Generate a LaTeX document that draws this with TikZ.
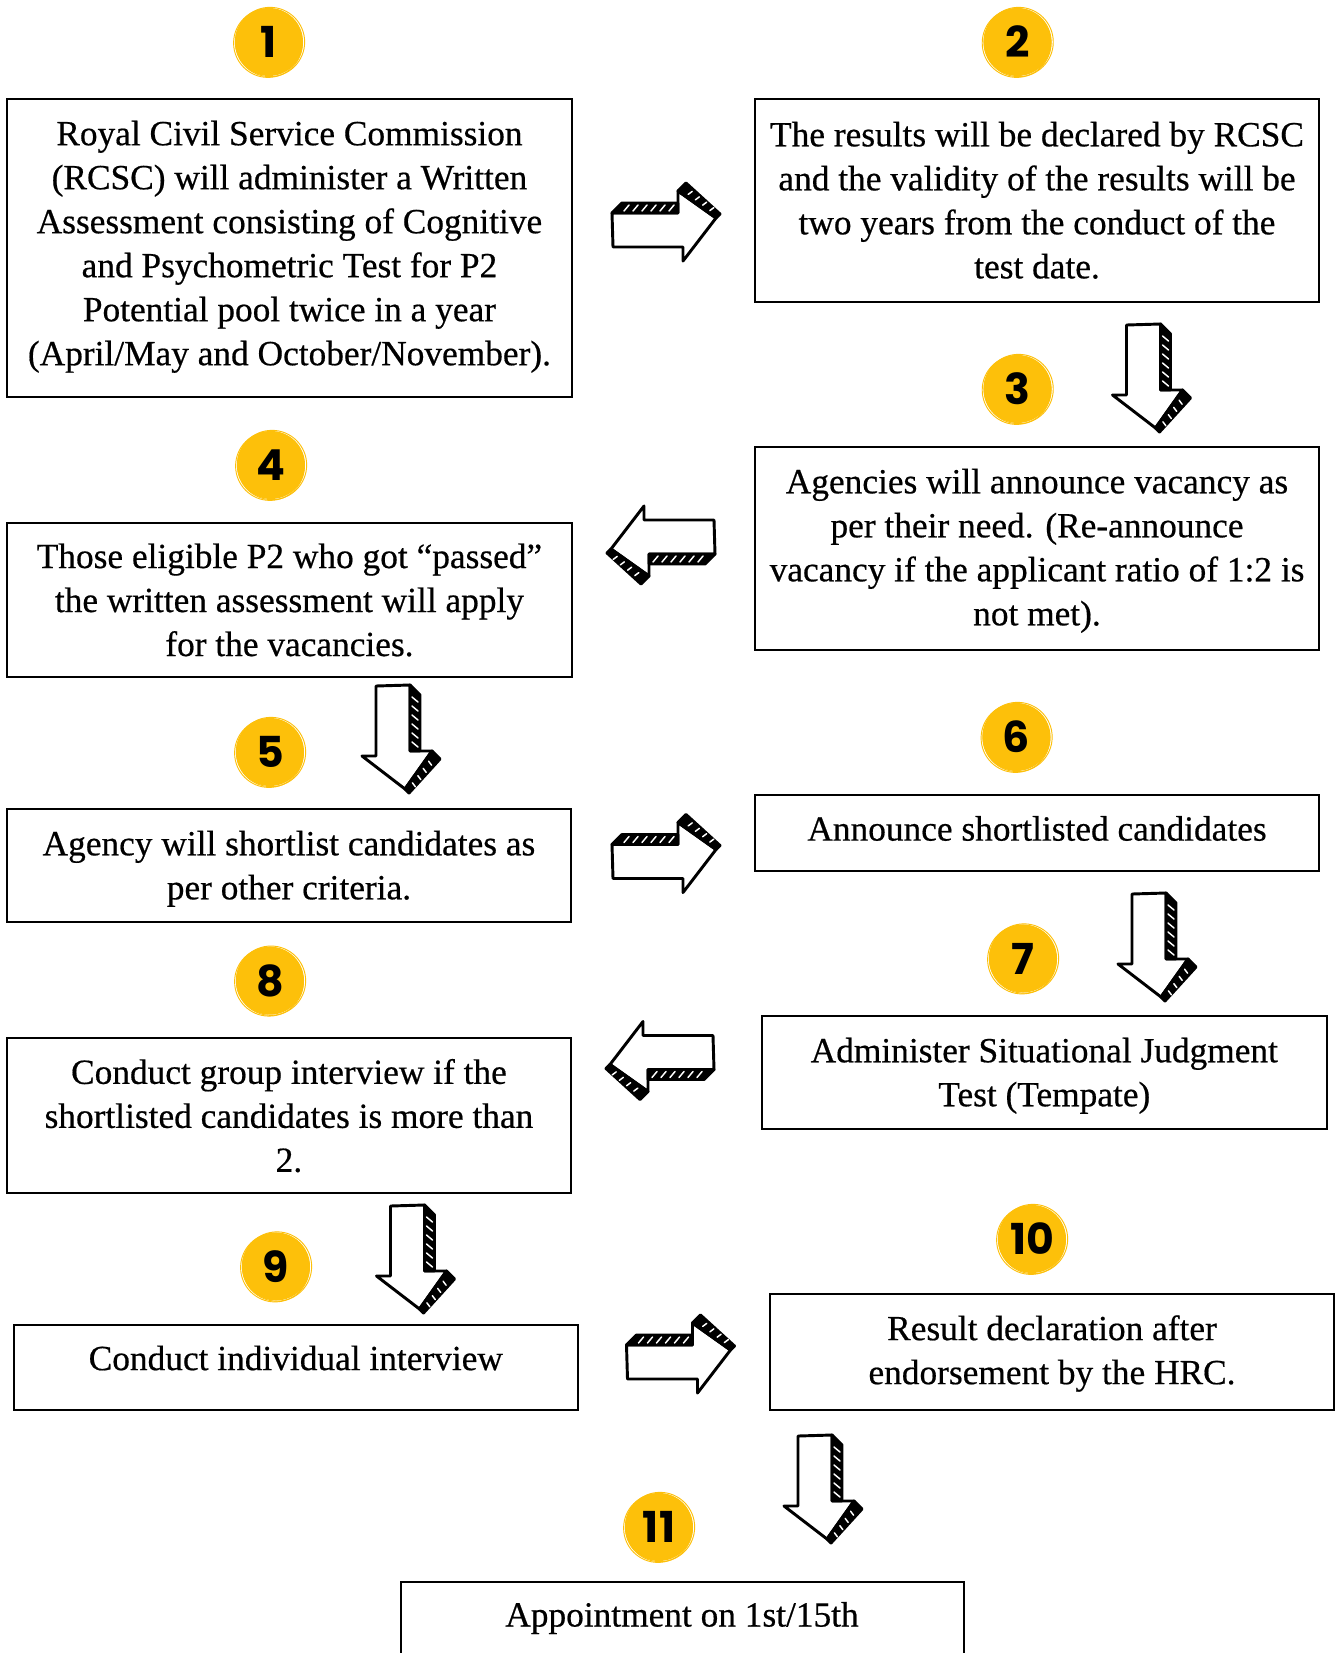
\documentclass[tikz,border=0pt]{standalone}
\usepackage{fontspec}
\setmainfont{Liberation Serif}
\newfontfamily\stepfont{Liberation Serif}[FakeBold=0.5]
\newfontfamily\badgefont{Poppins}
\usetikzlibrary{fit,calc}

\definecolor{badgeyellow}{RGB}{253,192,10}

\tikzset{
  box/.style={draw, line width=1.5pt, inner sep=0pt},
  boxtext/.style={inner sep=0pt, align=center, font=\stepfont\fontsize{26.5}{33}\selectfont},
  badge/.style={circle, fill=badgeyellow, minimum size=51pt, inner sep=0pt,
    font=\badgefont\bfseries\fontsize{32}{32}\selectfont},
  rim/.style={draw=badgeyellow, line width=0.7pt},
  outline/.style={line width=2.2pt, line join=round, line cap=round},
  hatch/.style={white, line width=1.1pt, line cap=round},
  % hand-drawn block arrow pointing right; rotate it for the other directions
  blockarrow/.pic={
    \draw[outline, fill=white] (-52,-9) -- (14,-9) -- (14,-31) -- (52,-4)
      -- (19,39) -- (19,25) -- (-51,25) -- cycle;
    \filldraw[outline] (-52,-9) -- (-42,-19) -- (14,-19) -- (14,-9) -- cycle;
    \filldraw[outline] (14,-31) -- (22,-39) -- (56,-8) -- (52,-4) -- cycle;
    \foreach \i in {-40,-31,...,6} \draw[hatch] (\i,-11) -- (\i+5,-17);
    \foreach \i in {0.2,0.4,0.6,0.8}
      \draw[hatch] ($(17,-33)!\i!(53,-6)$) -- ++(4,-3);
  },
}

\begin{document}
\begin{tikzpicture}[x=0.75pt, y=-0.75pt]
\useasboundingbox (0,0) rectangle (1335,1653);
\clip (0,0) rectangle (1335,1653);
\fill[white] (0,0) rectangle (1335,1653);

% step boxes
\node[box, fit={(7.4,99) (571.5,396.5)}] (b1) {};
\node[box, fit={(755,99) (1319,301.6)}] (b2) {};
\node[box, fit={(755,447) (1319,649.6)}] (b3) {};
\node[box, fit={(7.4,523) (571.5,677)}] (b4) {};
\node[box, fit={(7.4,809) (570.5,921.6)}] (b5) {};
\node[box, fit={(755,795) (1319,871)}] (b6) {};
\node[box, fit={(762,1015.5) (1326.6,1129)}] (b7) {};
\node[box, fit={(7.4,1037.6) (570.5,1192.7)}] (b8) {};
\node[box, fit={(13.7,1324.5) (578,1410)}] (b9) {};
\node[box, fit={(770,1294) (1334,1410)}] (b10) {};
\node[box, fit={(400.7,1581.8) (963.8,1700)}] (b11) {};

% step texts
\node[boxtext] (t1) at ($(b1.center)+(0,-1)$) {Royal Civil Service Commission\\(RCSC) will administer a Written\\Assessment consisting of Cognitive\\and Psychometric Test for P2\\Potential pool twice in a year\\(April/May and October/November).};
\node[boxtext] (t2) at ($(b2.center)+(0,0)$) {The results will be declared by RCSC\\and the validity of the results will be\\two years from the conduct of the\\test date.};
\node[boxtext] (t3) at ($(b3.center)+(0,2.5)$) {Agencies will announce vacancy as\\per their need. (Re-announce\\vacancy if the applicant ratio of 1:2 is\\not met).};
\node[boxtext] (t4) at ($(b4.center)+(0,0)$) {Those eligible P2 who got “passed”\\the written assessment will apply\\for the vacancies.};
\node[boxtext] (t5) at ($(b5.center)+(0,3.5)$) {Agency will shortlist candidates as\\per other criteria.};
\node[boxtext] (t6) at ($(b6.center)+(0,-4.5)$) {Announce shortlisted candidates};
\node[boxtext] (t7) at ($(b7.center)+(0,3.5)$) {Administer Situational Judgment\\Test (Tempate)};
\node[boxtext] (t8) at ($(b8.center)+(0,0.5)$) {Conduct group interview if the\\shortlisted candidates is more than\\2.};
\node[boxtext] (t9) at (295.8,1358) {Conduct individual interview};
\node[boxtext] (t10) at ($(b10.center)+(0,1.5)$) {Result declaration after\\endorsement by the HRC.};
\node[boxtext] (t11) at (682,1618) {Appointment on 1st/15th};

% numbered badges
\foreach \n/\x/\y in {1/269/42, 2/1017.6/42, 3/1017.6/389, 4/271/465,
    5/270/752, 6/1016.5/737, 7/1023/958.5, 8/270/980.7, 9/276/1266.5,
    10/1032/1239, 11/659/1527} {
  \draw[rim] (\x+1,\y) circle[radius=26pt];
  \draw[rim] (\x-1,\y+1) circle[radius=25.8pt];
  \node[badge] (n\n) at (\x,\y) {\n};
}

% block arrows between steps
\pic at (664,222) {blockarrow};
\pic[rotate=-90] at (1151.5,376) {blockarrow};
\pic[rotate=180] at (663,545) {blockarrow};
\pic[rotate=-90] at (401,737) {blockarrow};
\pic at (664,853.5) {blockarrow};
\pic[rotate=-90] at (1157,945) {blockarrow};
\pic[rotate=180] at (662,1060.5) {blockarrow};
\pic[rotate=-90] at (415.5,1257) {blockarrow};
\pic at (678.5,1354) {blockarrow};
\pic[rotate=-90] at (823,1487) {blockarrow};
\end{tikzpicture}
\end{document}
